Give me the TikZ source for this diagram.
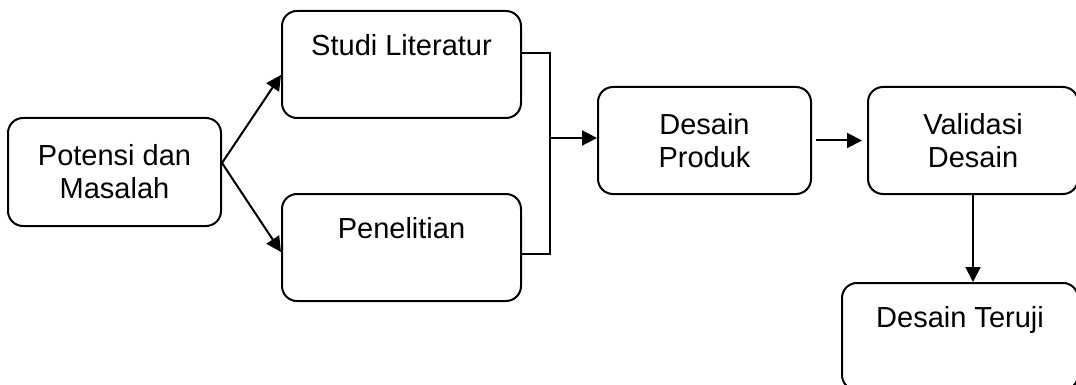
\documentclass[tikz,border=0pt]{standalone}
\usepackage{fontspec}
\setmainfont{Liberation Sans}
\usetikzlibrary{positioning,arrows.meta}

\tikzset{
  box/.style={draw, line width=1pt, rounded corners=7.5pt, align=center,
              font=\fontsize{14.5}{16.5}\selectfont},
  topbox/.style={box, minimum height=53.5pt, inner ysep=12pt,
                 text height=10.4pt, text depth=19.1pt}
}

\begin{document}
\begin{tikzpicture}[x=0.5pt,y=-0.5pt,->,>={Triangle[length=7.5pt,width=7.5pt]},
                    line width=1pt]
  \useasboundingbox (0,0) rectangle (1076,385);

  \node[box, minimum width=106.5pt, minimum height=54pt] (pot) at (114.5,172) {Potensi dan\\Masalah};
  \node[topbox, minimum width=119.5pt] (stud) at (401.5,64.5) {Studi Literatur};
  \node[topbox, minimum width=119.5pt] (pen) [below=37pt of stud] {Penelitian};
  \node[box, minimum width=106.5pt, minimum height=53.5pt] (prod) at (704.5,140.5) {Desain\\Produk};
  \node[box, minimum width=105pt, minimum height=53.5pt] (val) [right=27.5pt of prod] {Validasi\\Desain};
  \node[topbox, minimum width=118pt] (ter) at (960,336.5) {Desain Teruji};

  \coordinate (join) at (550,138);

  \draw ([yshift=4.5pt]pot.east) -- ([yshift=-5.25pt]stud.west);
  \draw ([yshift=4.5pt]pot.east) -- ([yshift=-2.25pt]pen.west);
  \draw[-] ([yshift=5.75pt]stud.east) -| (join) |- ([yshift=-3.25pt]pen.east);
  \draw (join) -- (join -| prod.west);
  \draw[shorten <=2pt, shorten >=2.5pt] (prod) -- (val);
  \draw (val.south) -- (val.south |- ter.north);
\end{tikzpicture}
\end{document}
